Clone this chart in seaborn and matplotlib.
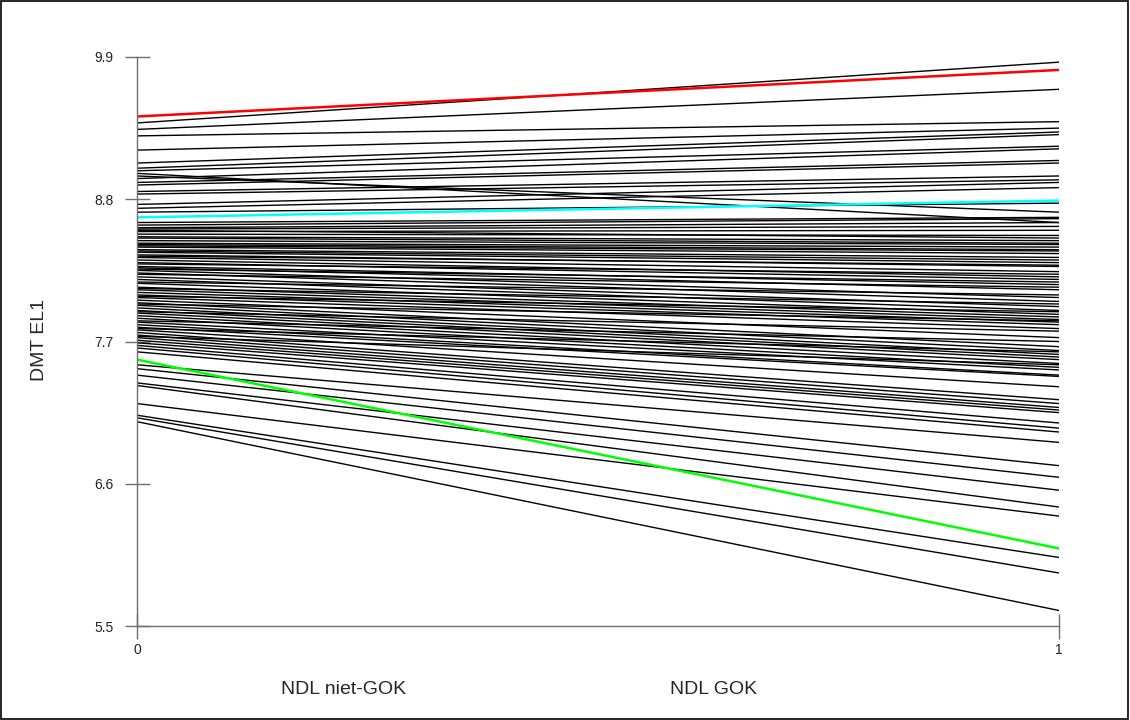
import numpy as np
import pandas as pd
import matplotlib
matplotlib.use("Agg")
import matplotlib.pyplot as plt
import seaborn as sns
from matplotlib.patches import Rectangle

# DMT EL1 scores per pupil: score in group 0 (NDL niet-GOK) and group 1 (NDL GOK)
start_scores = [
    9.39, 9.34, 9.29, 9.18, 9.08, 9.04, 9.02, 8.96, 8.93, 8.91,
    8.86, 8.84, 8.76, 8.73, 8.70, 8.62, 8.60, 8.58, 8.57, 8.55,
    8.53, 8.51, 8.48, 8.46, 8.45, 8.43, 8.41, 8.39, 8.37, 8.35,
    8.33, 8.31, 8.28, 8.27, 8.25, 8.23, 8.20, 8.18, 8.15, 8.12,
    8.10, 8.08, 8.06, 8.04, 8.02, 8.00, 7.98, 7.96, 7.94, 7.92,
    7.90, 7.88, 7.85, 7.83, 7.81, 7.79, 7.77, 7.75, 7.73, 7.71,
    7.69, 7.67, 7.65, 7.62, 7.52, 7.49, 7.44, 7.38, 7.36, 7.22,
    7.13, 7.11, 7.08,
    8.56, 8.50, 8.44, 8.40, 8.36, 8.30, 8.26, 8.22, 8.16, 8.11,
    8.05, 7.99, 7.93, 7.86, 7.80, 7.74, 9.00, 8.98,
]
end_scores = [
    9.86, 9.65, 9.40, 9.35, 9.32, 9.30, 9.21, 9.19, 9.10, 9.08,
    8.98, 8.95, 8.93, 8.89, 8.77, 8.66, 8.65, 8.62, 8.59, 8.56,
    8.52, 8.48, 8.45, 8.43, 8.41, 8.38, 8.35, 8.31, 8.28, 8.24,
    8.20, 8.18, 8.14, 8.10, 8.04, 8.01, 7.97, 7.94, 7.91, 7.89,
    7.87, 7.85, 7.83, 7.80, 7.73, 7.66, 7.63, 7.60, 7.58, 7.56,
    7.53, 7.50, 7.48, 7.44, 7.43, 7.35, 7.25, 7.22, 7.19, 7.17,
    7.15, 7.07, 7.03, 7.00, 6.92, 6.74, 6.65, 6.55, 6.42, 6.35,
    6.03, 5.91, 5.62,
    8.50, 8.46, 8.40, 8.33, 8.29, 8.22, 8.16, 8.12, 8.06, 7.99,
    7.93, 7.86, 7.78, 7.70, 7.62, 7.52, 8.62, 8.70,
]

# highlighted pupils
red_scores = [9.44, 9.80]
cyan_scores = [8.66, 8.79]
green_scores = [7.56, 6.10]

group_codes = [0, 1]
group_names = ["NDL niet-GOK", "NDL GOK"]
y_ticks = [5.5, 6.6, 7.7, 8.8, 9.9]

rows = []
for i, (a, b) in enumerate(zip(start_scores, end_scores)):
    rows.append({"id": i, "group": group_codes[0], "score": a})
    rows.append({"id": i, "group": group_codes[1], "score": b})
df = pd.DataFrame(rows)


def pair_frame(vals, name):
    return pd.DataFrame({"id": [name, name], "group": group_codes, "score": vals})


sns.set_style("white")
plt.rcParams["font.family"] = ["Liberation Sans", "DejaVu Sans"]

fig = plt.figure(figsize=(11.3, 7.2), dpi=100)
ax = fig.add_axes([137 / 1130, 1 - 626 / 720, 922 / 1130, (626 - 57) / 720])

sns.lineplot(data=df, x="group", y="score", units="id", estimator=None,
             color="black", lw=1.0, ax=ax, legend=False)
for vals, col, name in [(cyan_scores, "#00ffff", "cyan"),
                        (green_scores, "#00ff00", "green"),
                        (red_scores, "#ff0000", "red")]:
    sns.lineplot(data=pair_frame(vals, name), x="group", y="score",
                 units="id", estimator=None, color=col, lw=1.8, ax=ax,
                 legend=False)

ax.set_xlim(0, 1)
ax.set_ylim(5.5, 9.9)
ax.set_yticks(y_ticks)
ax.set_yticklabels([f"{t:.1f}" for t in y_ticks])
ax.set_xticks(group_codes)
ax.set_xticklabels([str(g) for g in group_codes])
ax.set_xlabel("")
ax.set_ylabel("")

for side in ["top", "right"]:
    ax.spines[side].set_visible(False)
for side in ["left", "bottom"]:
    ax.spines[side].set_color("#707070")
    ax.spines[side].set_linewidth(1.0)

ax.tick_params(axis="both", direction="inout", length=18, width=1.0,
               color="#707070", labelsize=10, labelcolor="#222222")
ax.tick_params(axis="y", left=True, pad=8)
ax.tick_params(axis="x", bottom=True, pad=3)

# category names under the axis and the vertical axis title
fig.text(344 / 1130, 1 - 690 / 720, group_names[0], ha="center", va="center",
         fontsize=14)
fig.text(714 / 1130, 1 - 690 / 720, group_names[1], ha="center", va="center",
         fontsize=14)
fig.text(40 / 1130, 1 - 340 / 720, "DMT EL1", ha="center", va="center",
         rotation=90, fontsize=14)

# frame around the whole figure
fig.patches.append(Rectangle((0.0005, 0.0008), 0.998, 0.998, transform=fig.transFigure,
                             fill=False, edgecolor="black", lw=1.2))

fig.savefig("out.png", dpi=100)
